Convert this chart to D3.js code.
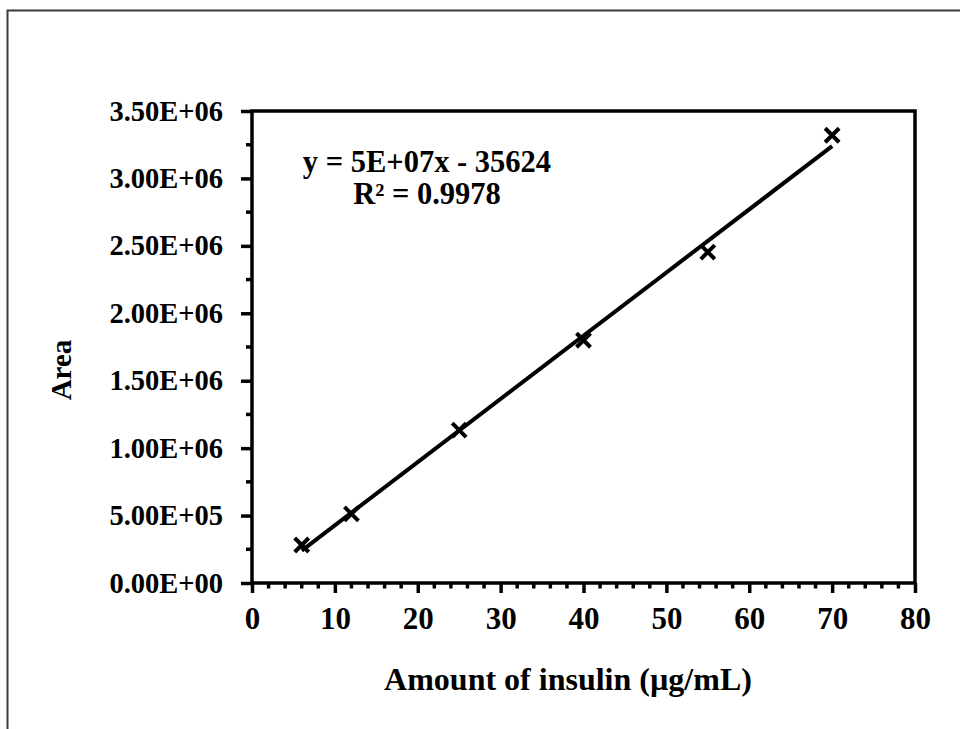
<!DOCTYPE html>
<html>
<head>
  <title>Insulin calibration curve</title>
  <style>
    body { margin: 0; background: #fff; }
    svg text { font-family: "Liberation Serif", "Times New Roman", serif; font-weight: bold; fill: #000; }
  </style>
</head>
<body>
  <svg id="chart"></svg>

  <script src="https://d3js.org/d3.v7.min.js"></script>
  <script>
    // data
    const concentration = [6, 12, 25, 40, 55, 70];
    const area = [282000, 512000, 1134000, 1800000, 2454000, 3320000];
    const xTickValues = [0, 10, 20, 30, 40, 50, 60, 70, 80];
    const yTickValues = [0, 500000, 1000000, 1500000, 2000000, 2500000, 3000000, 3500000];
    const yTickLabels = ['0.00E+00', '5.00E+05', '1.00E+06', '1.50E+06', '2.00E+06', '2.50E+06', '3.00E+06', '3.50E+06'];
    const equationLines = ['y = 5E+07x - 35624', 'R\u00b2 = 0.9978'];

    const width = 960, height = 729;
    const plot = { left: 252, right: 915, top: 111, bottom: 583 };

    const svg = d3.select('#chart')
      .attr('width', width)
      .attr('height', height);

    // outer frame (top and left edges only)
    svg.append('path')
      .attr('d', `M7.5,${height} V10.5 H${width}`)
      .attr('fill', 'none')
      .attr('stroke', '#3a3a3a')
      .attr('stroke-width', 2);

    const x = d3.scaleLinear().domain([0, 80]).range([plot.left, plot.right]);
    const y = d3.scaleLinear().domain([0, 3500000]).range([plot.bottom, plot.top]);

    // minor ticks
    const xMinor = d3.range(0, 81, 2).filter(d => d % 10 !== 0);
    const yMinor = d3.range(250000, 3500000, 500000);

    svg.append('g')
      .selectAll('line')
      .data(xMinor)
      .join('line')
      .attr('x1', d => x(d)).attr('x2', d => x(d))
      .attr('y1', plot.bottom).attr('y2', plot.bottom + 5.5)
      .attr('stroke', '#000').attr('stroke-width', 3.5);

    svg.append('g')
      .selectAll('line')
      .data(yMinor)
      .join('line')
      .attr('y1', d => y(d)).attr('y2', d => y(d))
      .attr('x1', plot.left).attr('x2', plot.left - 6)
      .attr('stroke', '#000').attr('stroke-width', 3.5);

    // axes
    const xAxis = svg.append('g')
      .attr('transform', `translate(0,${plot.bottom})`)
      .call(d3.axisBottom(x).tickValues(xTickValues).tickSize(10).tickPadding(14).tickSizeOuter(0));
    xAxis.select('.domain').remove();
    xAxis.selectAll('line').attr('stroke', '#000').attr('stroke-width', 3.5);
    xAxis.selectAll('text').attr('font-size', 31).attr('dy', '0.71em')
      .style('font-family', '"Liberation Serif", serif').style('font-weight', 'bold');

    const yAxis = svg.append('g')
      .attr('transform', `translate(${plot.left},0)`)
      .call(d3.axisLeft(y).tickValues(yTickValues)
        .tickFormat((d, i) => yTickLabels[i]).tickSize(11).tickPadding(18).tickSizeOuter(0));
    yAxis.select('.domain').remove();
    yAxis.selectAll('line').attr('stroke', '#000').attr('stroke-width', 3.5);
    yAxis.selectAll('text').attr('font-size', 28.5)
      .style('font-family', '"Liberation Serif", serif').style('font-weight', 'bold');

    // plot box
    svg.append('rect')
      .attr('x', plot.left).attr('y', plot.top)
      .attr('width', plot.right - plot.left).attr('height', plot.bottom - plot.top)
      .attr('fill', 'none').attr('stroke', '#000').attr('stroke-width', 3.5);

    // linear trendline from the points
    const points = concentration.map((c, i) => [c, area[i]]);
    const mx = d3.mean(concentration), my = d3.mean(area);
    const slope = d3.sum(points, p => (p[0] - mx) * (p[1] - my)) / d3.sum(points, p => (p[0] - mx) ** 2);
    const intercept = my - slope * mx;
    const xEnds = d3.extent(concentration);

    svg.append('line')
      .attr('x1', x(xEnds[0])).attr('y1', y(slope * xEnds[0] + intercept))
      .attr('x2', x(xEnds[1])).attr('y2', y(slope * xEnds[1] + intercept))
      .attr('stroke', '#000').attr('stroke-width', 4);

    // cross markers
    const s = 7;
    svg.append('g')
      .selectAll('path')
      .data(points)
      .join('path')
      .attr('d', d => {
        const px = x(d[0]), py = y(d[1]);
        return `M${px - s},${py - s}L${px + s},${py + s}M${px - s},${py + s}L${px + s},${py - s}`;
      })
      .attr('stroke', '#000').attr('stroke-width', 4).attr('fill', 'none');

    // equation, one text per line
    svg.append('g')
      .selectAll('text')
      .data(equationLines)
      .join('text')
      .attr('text-anchor', 'middle')
      .attr('font-size', 30.5)
      .attr('x', 427)
      .attr('y', (d, i) => 172 + i * 32)
      .text(d => d);

    // axis titles
    svg.append('text')
      .attr('x', 568).attr('y', 690)
      .attr('text-anchor', 'middle')
      .attr('font-size', 32)
      .text('Amount of insulin (\u00b5g/mL)');

    svg.append('text')
      .attr('transform', 'translate(71,370) rotate(-90)')
      .attr('text-anchor', 'middle')
      .attr('font-size', 29)
      .text('Area');
  </script>
</body>
</html>
